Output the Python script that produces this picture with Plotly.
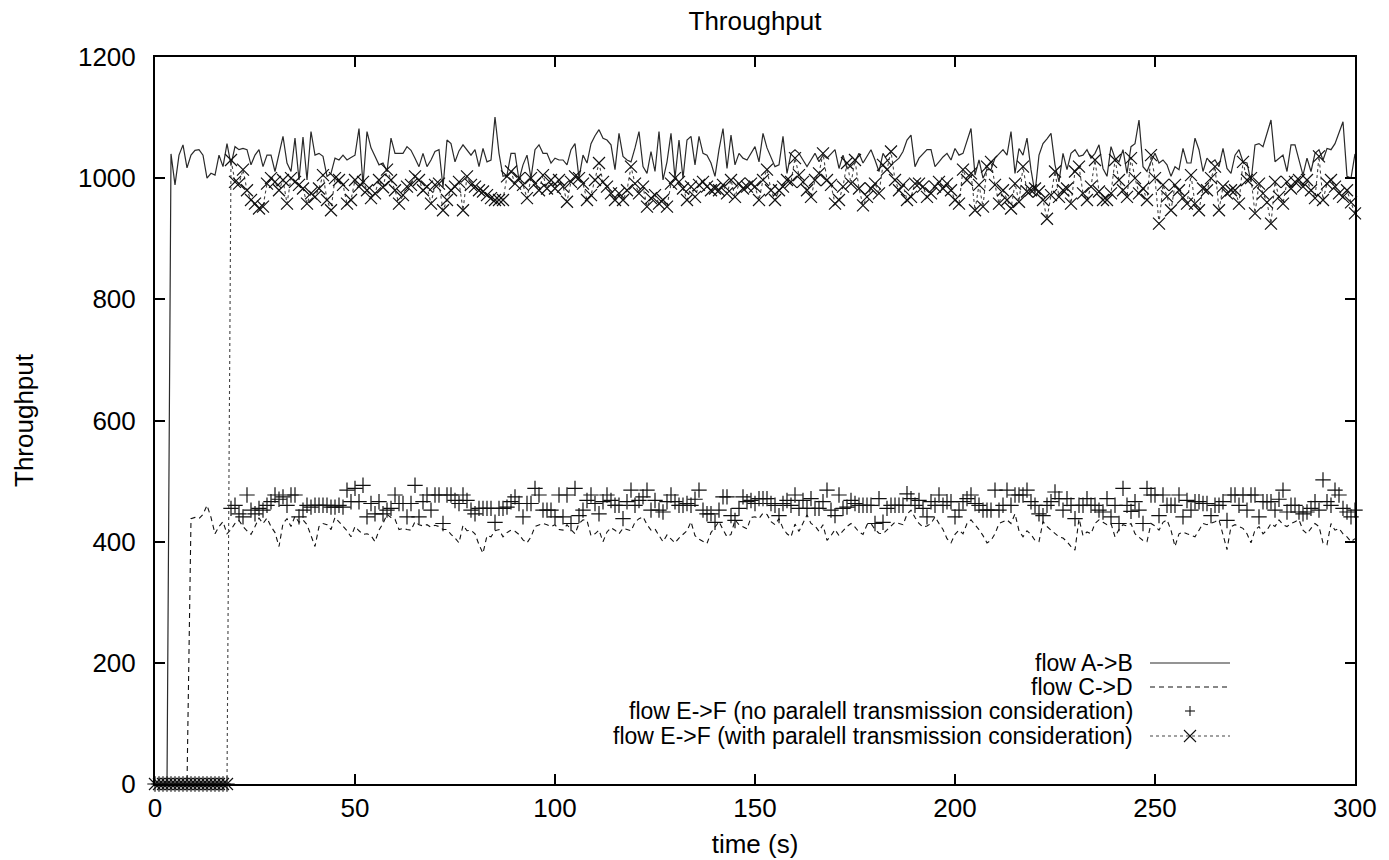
import plotly.graph_objects as go

# ---------------- data ----------------
time_s = list(range(301))

flow_ab = (
    [0, 0, 0, 0]
    + [1040, 989, 1038, 1055, 1017, 1038, 1046, 1047, 1038, 1000,
       1008, 1005, 1038, 1019, 1057, 1022, 1052, 1047, 1049, 1047,
       1022, 1038, 1047, 1019, 1038, 1038, 1011, 1041, 1069, 1025,
       1011, 1066, 997, 1068, 997, 1077, 1038, 1041, 1036, 1003,
       1008, 1033, 1030, 1038, 1030]
    + [1034, 1038, 1082, 989, 1077, 1050, 1036, 1022, 1025, 1011,
       1066, 1041, 1041, 1041, 1052, 1046, 1033, 1019, 1041, 1019,
       1030, 1044, 1047, 985, 1063, 1057, 1027, 1045, 1055, 1047,
       1038, 1047, 1019, 1049, 1027, 1030, 1101, 1041, 1003, 1005,
       1041, 1041, 997, 1022, 1038, 1000, 1047, 1055, 1041, 1041]
    + [1025, 1033, 1030, 1030, 1022, 1047, 1057, 1000, 1038, 1025,
       1057, 1070, 1080, 1066, 1063, 1055, 1014, 1074, 1036, 1030,
       1027, 1050, 1077, 1019, 1008, 1044, 1011, 1077, 997, 1027,
       1074, 1000, 1063, 1000, 1063, 1069, 1022, 1069, 1041, 1038,
       1025, 1003, 1047, 1082, 1016, 1071, 1022, 1041, 1033, 1030]
    + [1040, 1052, 1027, 1074, 1050, 1033, 1019, 1022, 1069, 1008,
       1041, 1047, 1041, 1030, 1019, 1030, 1041, 1027, 1038, 1033,
       1040, 1047, 1016, 1038, 1016, 1020, 1027, 1041, 1025, 1036,
       1047, 1030, 1011, 1041, 1030, 1022, 1027, 1033, 1044, 1063,
       1071, 1019, 1033, 1040, 1047, 1047, 1019, 1027, 1035, 1041]
    + [1030, 1049, 1038, 1041, 1060, 1082, 1005, 1030, 1000, 1014,
       1014, 1033, 1040, 1047, 1038, 1077, 1008, 1049, 1038, 1066,
       1014, 975, 1038, 1057, 1065, 1074, 1022, 994, 1041, 1014,
       1041, 1047, 1036, 1038, 1047, 1033, 1041, 1055, 1016, 1003,
       1052, 1033, 1027, 1047, 1008, 1052, 1057, 1096, 1019, 1011]
    + [1027, 1041, 1025, 1030, 1022, 1003, 1019, 1014, 1049, 1025,
       1025, 1066, 1047, 1011, 1033, 1025, 1030, 1019, 1049, 1016,
       1008, 1038, 1047, 1027, 1025, 994, 1055, 1057, 1052, 1074,
       1096, 1027, 1033, 1038, 1011, 1055, 1055, 1030, 1005, 1033,
       1011, 1041, 1047, 1030, 1049, 1047, 1057, 1075, 1093, 1003,
       1000, 1040]
)

flow_cd = (
    [0, 0, 0, 0, 0, 0, 0, 0, 0]
    + [438, 440, 438, 445, 460, 440, 413, 425, 433, 413,
       420, 430, 435, 425, 418, 412, 425, 439, 430, 439,
       425, 415, 392, 430, 438, 425, 442, 432, 436, 428,
       410, 392, 425, 430, 428, 420, 440, 433, 425, 418]
    + [408, 425, 418, 412, 413, 410, 400, 419, 430, 445,
       440, 437, 420, 422, 420, 419, 433, 428, 426, 428,
       424, 427, 425, 420, 420, 412, 406, 398, 427, 418,
       419, 413, 395, 381, 410, 408, 418, 420, 408, 415,
       419, 417, 412, 403, 398, 408, 425, 428, 430, 428]
    + [425, 428, 420, 419, 428, 420, 413, 430, 436, 435,
       410, 413, 419, 400, 416, 423, 419, 413, 422, 420,
       418, 432, 438, 441, 428, 419, 421, 410, 400, 411,
       405, 398, 406, 412, 418, 433, 410, 404, 400, 397,
       415, 425, 433, 420, 408, 412, 436, 428, 424, 421]
    + [440, 441, 438, 447, 445, 433, 428, 438, 422, 413,
       408, 429, 417, 430, 444, 430, 426, 417, 428, 402,
       410, 420, 410, 418, 425, 430, 424, 416, 412, 428,
       430, 420, 414, 413, 419, 425, 432, 430, 428, 445,
       452, 440, 430, 424, 426, 430, 441, 430, 420, 405]
    + [398, 412, 419, 413, 430, 436, 428, 420, 410, 398,
       402, 413, 430, 433, 436, 430, 446, 418, 408, 418,
       412, 402, 400, 433, 425, 419, 413, 408, 406, 400,
       392, 386, 438, 410, 416, 413, 430, 436, 432, 428,
       430, 408, 420, 428, 426, 430, 413, 408, 402, 400]
    + [430, 426, 419, 432, 436, 419, 392, 413, 416, 413,
       410, 408, 419, 430, 428, 430, 433, 436, 410, 387,
       425, 428, 425, 422, 413, 398, 419, 425, 413, 419,
       430, 425, 436, 428, 425, 430, 433, 436, 419, 413,
       422, 430, 425, 398, 395, 430, 419, 422, 413, 408,
       400, 405]
)

flow_ef_no_par = (
    [0, 0, 0, 0, 0, 0, 0, 0, 0, 0, 0, 0, 0, 0, 0, 0, 0, 0, 0]
    + [455, 460, 446, 441, 477, 452, 446, 455, 452, 460,
       466, 477, 470, 474, 460, 477, 477, 441, 452, 460,
       457, 460, 460, 460, 460, 457, 457, 460, 457, 485]
    + [466, 488, 466, 493, 441, 463, 446, 466, 446, 452,
       455, 477, 463, 463, 441, 463, 493, 441, 466, 477,
       452, 477, 477, 430, 477, 477, 468, 463, 477, 468,
       452, 446, 455, 455, 455, 455, 432, 455, 455, 457,
       466, 474, 463, 441, 463, 463, 488, 477, 452, 452]
    + [452, 441, 477, 441, 477, 430, 488, 443, 452, 468,
       477, 463, 446, 466, 477, 468, 460, 460, 438, 466,
       485, 460, 468, 474, 485, 452, 468, 452, 449, 466,
       477, 466, 460, 460, 463, 460, 470, 485, 452, 446,
       446, 432, 452, 474, 474, 443, 435, 455, 474, 466]
    + [468, 463, 471, 471, 471, 463, 460, 443, 463, 468,
       460, 477, 455, 468, 455, 471, 455, 455, 466, 485,
       452, 443, 477, 455, 457, 468, 463, 460, 460, 460,
       460, 430, 471, 432, 455, 460, 460, 460, 460, 479,
       471, 460, 468, 455, 441, 466, 460, 477, 460, 466]
    + [466, 441, 452, 466, 471, 477, 463, 460, 452, 452,
       452, 485, 452, 460, 485, 460, 477, 477, 477, 485,
       466, 460, 446, 443, 460, 466, 482, 471, 452, 471,
       460, 438, 460, 460, 471, 460, 460, 452, 449, 471,
       441, 460, 430, 488, 460, 450, 466, 452, 430, 488]
    + [477, 477, 443, 477, 460, 460, 460, 477, 441, 468,
       452, 466, 466, 463, 463, 443, 460, 460, 466, 435,
       477, 477, 460, 477, 452, 477, 477, 441, 466, 466,
       466, 452, 470, 485, 449, 460, 460, 449, 446, 449,
       455, 466, 452, 502, 466, 460, 485, 477, 455, 449,
       441, 452]
)

flow_ef_with_par = (
    [0, 0, 0, 0, 0, 0, 0, 0, 0, 0, 0, 0, 0, 0, 0, 0, 0, 0, 0]
    + [1030, 994, 991, 1014, 980, 964, 958, 950, 953, 991,
       1000, 994, 980, 997, 958, 1000, 994, 989, 983, 958,
       975, 969, 983, 1005, 964, 947, 1000, 997, 989, 958]
    + [964, 997, 986, 994, 980, 967, 975, 997, 985, 1014,
       997, 980, 958, 972, 986, 989, 1003, 997, 980, 986,
       958, 989, 991, 947, 964, 980, 986, 994, 947, 1003,
       989, 986, 980, 978, 972, 967, 964, 964, 964, 1003,
       1011, 991, 1000, 989, 967, 1000, 991, 980, 1005, 983]
    + [997, 983, 997, 986, 961, 994, 1003, 1000, 991, 964,
       972, 997, 1025, 994, 986, 975, 964, 975, 964, 980,
       1019, 991, 975, 986, 953, 967, 972, 958, 964, 953,
       991, 1000, 994, 983, 964, 986, 969, 989, 994, 986,
       980, 983, 980, 989, 975, 997, 969, 991, 983, 986]
    + [991, 986, 964, 997, 1014, 980, 964, 980, 986, 997,
       994, 1033, 1005, 994, 980, 969, 997, 1008, 1041, 997,
       989, 958, 964, 986, 1025, 991, 1030, 983, 955, 969,
       983, 991, 975, 1022, 1014, 1044, 997, 980, 989, 964,
       969, 991, 991, 986, 969, 975, 986, 994, 983, 991]
    + [980, 964, 958, 1014, 997, 1008, 947, 989, 953, 1019,
       1027, 989, 958, 980, 964, 950, 991, 961, 1019, 978,
       980, 983, 978, 964, 933, 972, 1011, 969, 980, 983,
       958, 1011, 1019, 975, 964, 986, 1030, 978, 964, 964,
       975, 1030, 997, 980, 969, 1033, 1000, 975, 983, 964]
    + [1038, 1000, 925, 989, 970, 947, 989, 980, 968, 958,
       1005, 958, 947, 983, 980, 1000, 1019, 947, 986, 975,
       980, 980, 958, 1027, 997, 1000, 942, 991, 975, 960,
       925, 994, 969, 958, 994, 983, 994, 997, 986, 997,
       980, 967, 1036, 964, 991, 997, 986, 975, 969, 980,
       960, 942]
)

series_names = [
    "flow A->B",
    "flow C->D",
    "flow E->F (no paralell transmission consideration)",
    "flow E->F (with paralell transmission consideration)",
]
x_ticks = [0, 50, 100, 150, 200, 250, 300]
y_ticks = [0, 200, 400, 600, 800, 1000, 1200]

# ---------------- figure ----------------
FONT = "Liberation Sans"
FS = 26
FS_LEG = 23
W, H = 1389, 860
L, R, T, B = 155, 34, 57, 76
PW, PH = W - L - R, H - T - B
INK = "#111111"


def xp(px):
    return (px - L) / PW


def yp(py):
    return (H - B - py) / PH


fig = go.Figure()

fig.add_trace(go.Scatter(
    x=time_s[:len(flow_ab)], y=flow_ab, mode="lines", name=series_names[0],
    line=dict(color="#2a2a2a", width=1.2), showlegend=False))
fig.add_trace(go.Scatter(
    x=time_s[:len(flow_cd)], y=flow_cd, mode="lines", name=series_names[1],
    line=dict(color=INK, width=1.1, dash="5px,4px"), showlegend=False))
fig.add_trace(go.Scatter(
    x=time_s[:len(flow_ef_no_par)], y=flow_ef_no_par, mode="markers",
    name=series_names[2], cliponaxis=False,
    marker=dict(symbol="cross-thin-open", size=11, color=INK,
                line=dict(color=INK, width=1.2)),
    showlegend=False))
fig.add_trace(go.Scatter(
    x=time_s[:len(flow_ef_with_par)], y=flow_ef_with_par, mode="lines+markers",
    name=series_names[3], cliponaxis=False,
    line=dict(color="#444444", width=1.1, dash="dot"),
    marker=dict(symbol="x-thin-open", size=12, color=INK,
                line=dict(color=INK, width=1.2)),
    showlegend=False))

# ---------- gnuplot-style legend (text right-aligned, sample on the right) ----------
legend_rows_py = [663, 687, 711, 736]
text_right_px = 1135
samp_x0, samp_x1, samp_c = 1150, 1230, 1190
shapes = []
annotations = []
for i, name in enumerate(series_names):
    py = legend_rows_py[i]
    annotations.append(dict(
        x=xp(text_right_px), y=yp(py), xref="paper", yref="paper",
        text=name, showarrow=False, xanchor="right", yanchor="middle",
        font=dict(family=FONT, size=FS_LEG, color="black")))

shapes.append(dict(type="line", xref="paper", yref="paper",
                   x0=xp(samp_x0), x1=xp(samp_x1), y0=yp(663), y1=yp(663),
                   line=dict(color="#2a2a2a", width=1.2)))
shapes.append(dict(type="line", xref="paper", yref="paper",
                   x0=xp(samp_x0), x1=xp(samp_x1), y0=yp(687), y1=yp(687),
                   line=dict(color=INK, width=1.1, dash="5px,4px")))
# plus sample
shapes.append(dict(type="line", xref="paper", yref="paper",
                   x0=xp(samp_c - 5), x1=xp(samp_c + 5), y0=yp(711), y1=yp(711),
                   line=dict(color=INK, width=1.1)))
shapes.append(dict(type="line", xref="paper", yref="paper",
                   x0=xp(samp_c), x1=xp(samp_c), y0=yp(706), y1=yp(716),
                   line=dict(color=INK, width=1.1)))
# dotted + x sample
shapes.append(dict(type="line", xref="paper", yref="paper",
                   x0=xp(samp_x0), x1=xp(samp_x1), y0=yp(736), y1=yp(736),
                   line=dict(color="#444444", width=1.1, dash="dot")))
shapes.append(dict(type="line", xref="paper", yref="paper",
                   x0=xp(samp_c - 6), x1=xp(samp_c + 6), y0=yp(730), y1=yp(742),
                   line=dict(color=INK, width=1.1)))
shapes.append(dict(type="line", xref="paper", yref="paper",
                   x0=xp(samp_c - 6), x1=xp(samp_c + 6), y0=yp(742), y1=yp(730),
                   line=dict(color=INK, width=1.1)))

axis_common = dict(
    showgrid=False, zeroline=False, showline=True, linecolor="black",
    linewidth=2, mirror="ticks", ticks="inside", ticklen=10, tickwidth=2,
    tickcolor="black", tickfont=dict(family=FONT, size=FS, color="black"),
)

fig.update_layout(
    width=W, height=H,
    margin=dict(l=L, r=R, t=T, b=B, autoexpand=False),
    paper_bgcolor="white", plot_bgcolor="white",
    font=dict(family=FONT, color="black"),
    title=dict(text="Throughput", x=0.5 * (L + W - R) / W, xanchor="center",
               y=1 - 21 / H, yanchor="middle",
               font=dict(family=FONT, size=FS, color="black")),
    xaxis=dict(range=[0, 300], tickvals=x_ticks, ticklabelstandoff=0,
               title=dict(text="time (s)", standoff=13,
                          font=dict(family=FONT, size=FS, color="black")),
               **axis_common),
    yaxis=dict(range=[0, 1200], tickvals=y_ticks, ticklabelstandoff=12,
               title=dict(text="Throughput", standoff=37,
                          font=dict(family=FONT, size=FS, color="black")),
               **axis_common),
    shapes=shapes, annotations=annotations,
)

fig.write_html("out.html")
